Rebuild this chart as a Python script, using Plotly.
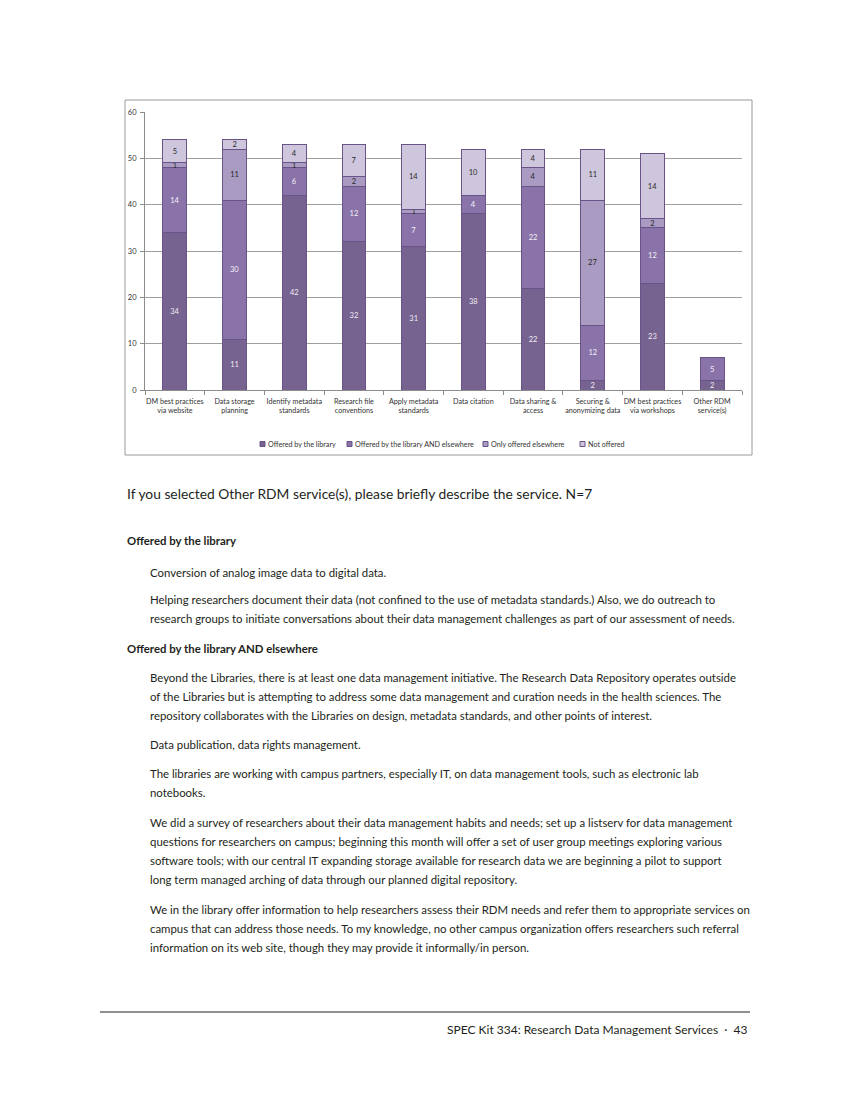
import plotly.graph_objects as go

categories = ["DM best practices via website", "Data storage planning", "Identify metadata standards",
              "Research file conventions", "Apply metadata standards", "Data citation",
              "Data sharing & access", "Securing & anonymizing data", "DM best practices via workshops",
              "Other RDM service(s)"]
tick_labels = ["DM best practices<br>via website", "Data storage<br>planning", "Identify metadata<br>standards",
               "Research file<br>conventions", "Apply metadata<br>standards", "Data citation",
               "Data sharing &<br>access", "Securing &<br>anonymizing data", "DM best practices<br>via workshops",
               "Other RDM<br>service(s)"]
series_names = ["Offered by the library", "Offered by the library AND elsewhere",
                "Only offered elsewhere", "Not offered"]
offered_library = [34, 11, 42, 32, 31, 38, 22, 2, 23, 2]
offered_both = [14, 30, 6, 12, 7, 4, 22, 12, 12, 5]
only_elsewhere = [1, 11, 1, 2, 1, 0, 4, 27, 2, 0]
not_offered = [5, 2, 4, 7, 14, 10, 4, 11, 14, 0]
y_ticks = [0, 10, 20, 30, 40, 50, 60]

series_values = [offered_library, offered_both, only_elsewhere, not_offered]
fill_colors = ["#77638f", "#8a73a8", "#a99bc2", "#cec6dc"]
text_colors = ["#f0edf4", "#f4f1f8", "#2a2a2a", "#2a2a2a"]
edge_color = "#6a5388"

CHART_FONT = "Lato, Carlito, Calibri, sans-serif"
BODY_FONT = "Lato, sans-serif"

fig = go.Figure()
for name, vals, fc, tc in zip(series_names, series_values, fill_colors, text_colors):
    fig.add_trace(go.Bar(
        x=categories, y=vals, name=name,
        marker=dict(color=fc, line=dict(color=edge_color, width=1)),
        text=[str(v) if v else "" for v in vals],
        textposition="inside", insidetextanchor="middle", textangle=0,
        constraintext="none",
        textfont=dict(color=tc, size=7.5, family=CHART_FONT),
        hoverinfo="skip", showlegend=False,
    ))

# page offset (body margin) and plot area in page pixels
OFF = 8
L, R, T, B = 145, 742, 112, 390
W, H = 849 - OFF, 1100 - OFF


def px(x):
    return (x - L) / (R - L)


def py(y):
    return (B - y) / (B - T)


fig.update_layout(
    width=W, height=H,
    margin=dict(l=L - OFF, r=W - (R - OFF), t=T - OFF, b=H - (B - OFF), pad=0),
    paper_bgcolor="white", plot_bgcolor="white",
    barmode="stack", bargap=0.6,
    font=dict(family=CHART_FONT, size=7.5, color="#333333"),
    showlegend=False,
    xaxis=dict(tickvals=categories, ticktext=tick_labels, showline=True, linecolor="#8c8c8c",
               linewidth=1, ticks="outside", tickson="boundaries", ticklen=4, tickcolor="#8c8c8c",
               showgrid=False, tickangle=0, ticklabelstandoff=4,
               tickfont=dict(size=7.2, color="#333333")),
    yaxis=dict(range=[0, 60], tickvals=y_ticks, showgrid=True, gridcolor="#9e9e9e", gridwidth=1,
               showline=True, linecolor="#8c8c8c", linewidth=1, ticks="outside", ticklen=4,
               tickcolor="#8c8c8c", zeroline=False, ticklabelstandoff=2,
               tickfont=dict(size=7.5, color="#333333")),
)

shapes = [
    dict(type="rect", xref="paper", yref="paper", x0=px(125), x1=px(752), y0=py(455), y1=py(100),
         line=dict(color="#9a9a9a", width=1), fillcolor="rgba(0,0,0,0)", layer="below"),
    dict(type="line", xref="paper", yref="paper", x0=px(100), x1=px(750), y0=py(1012), y1=py(1012),
         line=dict(color="#231f20", width=1)),
]

# legend (drawn as small squares with labels)
legend_x = [260, 347, 483, 580]
legend_y = 444
annotations = []
for lx, name, fc in zip(legend_x, series_names, fill_colors):
    shapes.append(dict(type="rect", xref="paper", yref="paper", x0=px(lx), x1=px(lx + 5),
                       y0=py(legend_y + 2.5), y1=py(legend_y - 2.5),
                       line=dict(color=edge_color, width=1), fillcolor=fc))
    annotations.append(dict(xref="paper", yref="paper", x=px(lx + 6), y=py(legend_y),
                            xanchor="left", yanchor="middle", text=name, showarrow=False,
                            font=dict(family=CHART_FONT, size=7.2, color="#333333")))
fig.update_layout(shapes=shapes)

text_color = "#231f20"
BS = 11.4
page_text = [
    (125, 493, "If you selected Other RDM service(s), please briefly describe the service. N=7", "Lato, sans-serif", 13.8, False),
    (125, 540, "Offered by the library", BODY_FONT, BS, True),
    (148, 572, "Conversion of analog image data to digital data.", BODY_FONT, BS, False),
    (148, 599, "Helping researchers document their data (not confined to the use of metadata standards.) Also, we do outreach to", BODY_FONT, BS, False),
    (148, 618, "research groups to initiate conversations about their data management challenges as part of our assessment of needs.", BODY_FONT, BS, False),
    (125, 648, "Offered by the library AND elsewhere", BODY_FONT, BS, True),
    (148, 677, "Beyond the Libraries, there is at least one data management initiative. The Research Data Repository operates outside", BODY_FONT, BS, False),
    (148, 696, "of the Libraries but is attempting to address some data management and curation needs in the health sciences. The", BODY_FONT, BS, False),
    (148, 715, "repository collaborates with the Libraries on design, metadata standards, and other points of interest.", BODY_FONT, BS, False),
    (148, 744, "Data publication, data rights management.", BODY_FONT, BS, False),
    (148, 773, "The libraries are working with campus partners, especially IT, on data management tools, such as electronic lab", BODY_FONT, BS, False),
    (148, 792, "notebooks.", BODY_FONT, BS, False),
    (148, 822, "We did a survey of researchers about their data management habits and needs; set up a listserv for data management", BODY_FONT, BS, False),
    (148, 841, "questions for researchers on campus; beginning this month will offer a set of user group meetings exploring various", BODY_FONT, BS, False),
    (148, 860, "software tools; with our central IT expanding storage available for research data we are beginning a pilot to support", BODY_FONT, BS, False),
    (148, 880, "long term managed arching of data through our planned digital repository.", BODY_FONT, BS, False),
    (148, 909, "We in the library offer information to help researchers assess their RDM needs and refer them to appropriate services on", BODY_FONT, BS, False),
    (148, 928, "campus that can address those needs. To my knowledge, no other campus organization offers researchers such referral", BODY_FONT, BS, False),
    (148, 947, "information on its web site, though they may provide it informally/in person.", BODY_FONT, BS, False),
]
for x, y, txt, fam, size, bold in page_text:
    annotations.append(dict(
        xref="paper", yref="paper", x=px(x), y=py(y), xanchor="left", yanchor="middle",
        text=f"<b>{txt}</b>" if bold else txt, showarrow=False,
        font=dict(family=fam, size=size, color=text_color), align="left"))
annotations.append(dict(
    xref="paper", yref="paper", x=px(750), y=py(1029), xanchor="right", yanchor="middle",
    text="SPEC Kit 334: Research Data Management Services  ·  43", showarrow=False,
    font=dict(family=BODY_FONT, size=12, color=text_color)))
fig.update_layout(annotations=annotations)

fig.write_html("out.html")
